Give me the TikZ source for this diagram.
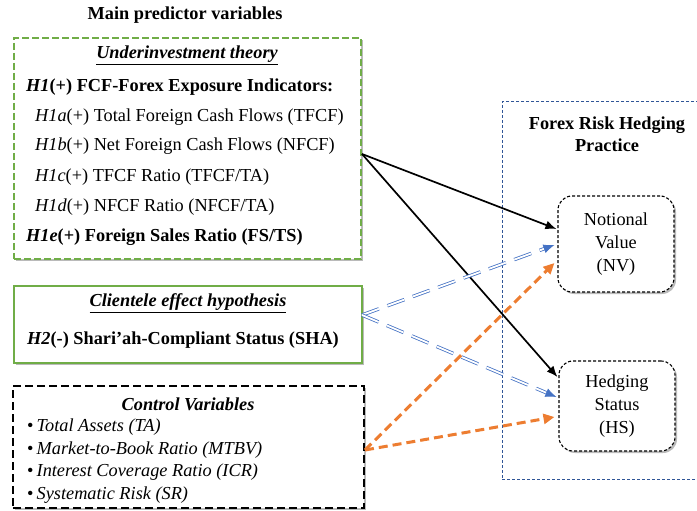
\documentclass[tikz,border=0pt]{standalone}
\usepackage{fontspec}
\setmainfont{Liberation Serif}
\usetikzlibrary{arrows.meta,shadows,calc}
\definecolor{ggreen}{RGB}{112,173,71}
\definecolor{dblue}{RGB}{47,85,151}
\definecolor{lblue}{RGB}{68,114,196}
\definecolor{orng}{RGB}{237,125,49}
\newcommand{\fs}{\fontsize{18.3}{22}\selectfont}
\tikzset{
  shad/.style={drop shadow={shadow xshift=2pt,shadow yshift=-2pt,fill=black!45,opacity=0.6}},
  gdash/.style={draw=ggreen,line width=1.1pt,dash pattern=on 7pt off 3pt,fill=white,shad},
  gsolid/.style={draw=ggreen,line width=1.1pt,fill=white,shad},
  kdash/.style={draw=black,line width=1.4pt,dash pattern=on 8pt off 4pt,fill=white,shad},
  bdot/.style={draw=dblue,line width=1pt,dash pattern=on 3pt off 2pt},
  outbox/.style={draw=black,line width=1.1pt,dash pattern=on 3pt off 2pt,rounded corners=14pt,fill=white,shad,align=center,font=\fontsize{18.3}{23}\selectfont},
  txt/.style={anchor=west,inner sep=0pt},
  ctxt/.style={inner sep=0pt},
  karrow/.style={line width=1.7pt,-{Latex[length=11pt,width=9pt]}},
  bdbl/.style={draw=lblue,double=white,double distance=1.8pt,line width=0.8pt,dash pattern=on 18pt off 9pt},
  btip/.style={lblue,line width=0.8pt,-{Latex[length=11pt,width=9pt]}},
  oarrow/.style={orng,line width=3pt,dash pattern=on 9pt off 5pt,-{Triangle[length=11pt,width=10pt]}},
}
\begin{document}
\begin{tikzpicture}[x=1pt,y=-1pt,font=\fs]
\useasboundingbox (0,0) rectangle (697,511);
% right frame
\node[bdot,minimum width=200pt,minimum height=377pt,inner sep=0pt] (frame) at (602,290.5) {};
\node[ctxt,align=center,font=\fontsize{18.3}{22}\selectfont\bfseries] (ftitle) at (607,134) {Forex Risk Hedging\\Practice};
% title
\node[ctxt,font=\fs\bfseries] (mtitle) at (185,15) {Main predictor variables};
% boxes
\node[gdash,minimum width=347pt,minimum height=221pt,inner sep=0pt] (ui) at (187.5,148.5) {};
\node[gsolid,minimum width=348pt,minimum height=77pt,inner sep=0pt] (cl) at (188,324.5) {};
\node[kdash,minimum width=351pt,minimum height=122pt,inner sep=0pt] (cv) at (188.5,447) {};
% underinvestment texts
\node[ctxt,font=\fs\bfseries\itshape] (uit) at (187,55) {\underline{Underinvestment theory}};
\node[txt] (h1) at (26,87) {\textbf{\textit{H1}(+) FCF-Forex Exposure Indicators:}};
\node[txt] (h1a) at (35,117) {\textit{H1a}(+) Total Foreign Cash Flows (TFCF)};
\node[txt] (h1b) at (35,146) {\textit{H1b}(+) Net Foreign Cash Flows (NFCF)};
\node[txt] (h1c) at (35,177) {\textit{H1c}(+) TFCF Ratio (TFCF/TA)};
\node[txt] (h1d) at (35,207) {\textit{H1d}(+) NFCF Ratio (NFCF/TA)};
\node[txt] (h1e) at (26,237) {\textbf{\textit{H1e}(+) Foreign Sales Ratio (FS/TS)}};
% clientele
\node[ctxt,font=\fs\bfseries\itshape] (clt) at (188,303) {\underline{Clientele effect hypothesis}};
\node[txt] (h2) at (27,340) {\textbf{\textit{H2}(-) Shari’ah-Compliant Status (SHA)}};
% control
\node[ctxt,font=\fs\bfseries\itshape] (cvt) at (188,404) {Control Variables};
\node[txt] (c1) at (27,427) {\textbullet\,\textit{Total Assets (TA)}};
\node[txt] (c2) at (27,450) {\textbullet\,\textit{Market-to-Book Ratio (MTBV)}};
\node[txt] (c3) at (27,472) {\textbullet\,\textit{Interest Coverage Ratio (ICR)}};
\node[txt] (c4) at (27,495) {\textbullet\,\textit{Systematic Risk (SR)}};
% outcome boxes
\node[outbox,minimum width=116pt,minimum height=96pt,inner sep=0pt] (nv) at (616,244) {Notional\\Value\\(NV)};
\node[outbox,minimum width=116pt,minimum height=90pt,inner sep=0pt] (hs) at (617,406) {Hedging\\Status\\(HS)};
% connector coordinates
\coordinate (h1out) at (362,154);
\coordinate (h2out) at (362,315);
\coordinate (cvout) at (365,450);
\coordinate (nvk) at ($(nv.west)+(-1,-15)$);
\coordinate (nvb) at ($(nv.west)+(-3,1)$);
\coordinate (nvo) at ($(nv.west)+(-3,19)$);
\coordinate (hsk) at ($(hs.west)+(-1,-29)$);
\coordinate (hsb) at ($(hs.west)+(-2,-9)$);
\coordinate (hso) at ($(hs.west)+(-4,11)$);
% black arrows
\draw[karrow] (h1out) -- (nvk);
\draw[karrow] (h1out) -- (hsk);
% blue double
\draw[bdbl,shorten >=9pt] (h2out) -- (nvb);
\draw[btip] ($(nvb)!11pt!(h2out)$) -- (nvb);
\draw[bdbl,shorten >=9pt] (h2out) -- (hsb);
\draw[btip] ($(hsb)!11pt!(h2out)$) -- (hsb);
% orange
\draw[oarrow] (cvout) -- (nvo);
\draw[oarrow] (cvout) -- (hso);
\end{tikzpicture}
\end{document}
